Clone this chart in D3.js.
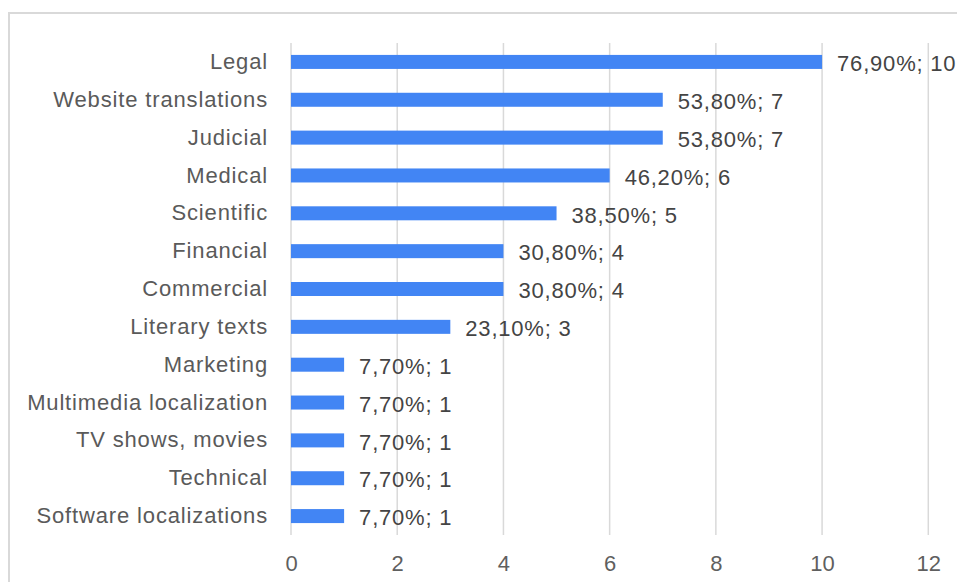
<!DOCTYPE html>
<html>
<head>
<meta charset="utf-8">
<script src="https://cdn.jsdelivr.net/npm/d3@7"></script>
<style>
  body { margin: 0; background: #fff; }
  svg { display: block; font-family: "Liberation Sans", Arial, sans-serif; }
</style>
</head>
<body>
<svg id="chart"></svg>
<script>
const categories = [
    "Legal", "Website translations", "Judicial", "Medical", "Scientific",
    "Financial", "Commercial", "Literary texts", "Marketing",
    "Multimedia localization", "TV shows, movies", "Technical",
    "Software localizations"
];
const counts = [10, 7, 7, 6, 5, 4, 4, 3, 1, 1, 1, 1, 1];
const percents = ["76,90%", "53,80%", "53,80%", "46,20%", "38,50%", "30,80%",
    "30,80%", "23,10%", "7,70%", "7,70%", "7,70%", "7,70%", "7,70%"];
const xTicks = [0, 2, 4, 6, 8, 10, 12];

const width = 957;
const height = 582;

const svg = d3.select("#chart")
    .attr("width", width)
    .attr("height", height);

// light frame around the chart (right / bottom run off the picture)
svg.append("rect")
    .attr("x", 9)
    .attr("y", 13)
    .attr("width", 1000)
    .attr("height", 700)
    .attr("fill", "none")
    .attr("stroke", "#d9d9d9")
    .attr("stroke-width", 2);

const x = d3.scaleLinear().domain([0, 12]).range([291, 928.3]);
const y = d3.scaleBand().domain(categories).range([43, 535]).paddingInner(0.63).paddingOuter(0.315);

const rows = categories.map(function (c, i) {
    return { name: c, count: counts[i], pct: percents[i] };
});

// gridlines
svg.append("g")
    .attr("class", "grid")
    .selectAll("line")
    .data(xTicks)
    .enter()
    .append("line")
    .attr("x1", function (d) { return x(d); })
    .attr("x2", function (d) { return x(d); })
    .attr("y1", 43)
    .attr("y2", 535)
    .attr("stroke", "#d9d9d9")
    .attr("stroke-width", 1.5);

// x axis labels
const xAxis = svg.append("g")
    .attr("transform", "translate(0,535)")
    .call(d3.axisBottom(x).tickValues(xTicks).tickSize(0).tickPadding(15));
xAxis.select(".domain").remove();
xAxis.selectAll("text")
    .attr("font-size", 22)
    .attr("font-family", "Liberation Sans, Arial, sans-serif")
    .attr("fill", "#5f5f5f")
    .attr("dy", "0.95em");

// category labels
const yAxis = svg.append("g")
    .attr("transform", "translate(291,0)")
    .call(d3.axisLeft(y).tickSize(0).tickPadding(23));
yAxis.select(".domain").remove();
yAxis.selectAll("text")
    .attr("font-size", 22)
    .attr("font-family", "Liberation Sans, Arial, sans-serif")
    .attr("letter-spacing", "0.85px")
    .attr("fill", "#5a5a5a");

// bars
svg.append("g")
    .selectAll("rect")
    .data(rows)
    .enter()
    .append("rect")
    .attr("x", x(0))
    .attr("y", function (d) { return y(d.name); })
    .attr("width", function (d) { return x(d.count) - x(0); })
    .attr("height", y.bandwidth())
    .attr("fill", "#4285f4");

// value labels
svg.append("g")
    .selectAll("text")
    .data(rows)
    .enter()
    .append("text")
    .attr("x", function (d) { return x(d.count) + 15; })
    .attr("y", function (d) { return y(d.name) + y.bandwidth() / 2; })
    .attr("dy", "0.42em")
    .attr("font-size", 22)
    .attr("letter-spacing", "0.8px")
    .attr("fill", "#444")
    .text(function (d) { return d.pct + "; " + d.count; });
</script>
</body>
</html>
